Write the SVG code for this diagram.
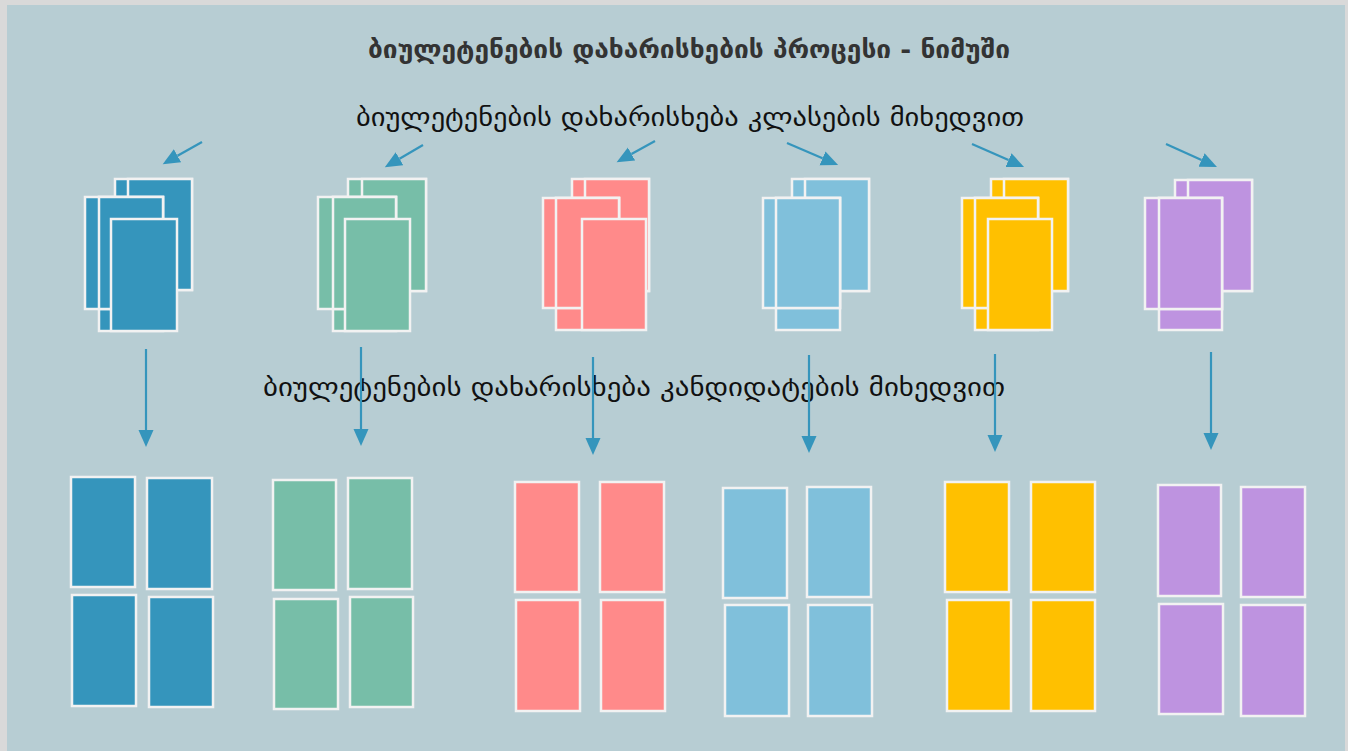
<svg xmlns="http://www.w3.org/2000/svg" width="1348" height="751" viewBox="0 0 1348 751">
<defs>
<style>
.card{stroke:#f2f2f2;stroke-width:2.5}
.c1{fill:#3595bc}.c2{fill:#77bea8}.c3{fill:#ff8a8a}.c4{fill:#80c0db}.c5{fill:#ffc000}.c6{fill:#be93e0}
.conn{stroke:#3595bc;stroke-width:2.2;fill:none}
.t{font-family:"DejaVu Sans","Noto Sans",sans-serif;text-anchor:middle}
</style>
<marker id="ah" markerUnits="userSpaceOnUse" markerWidth="18" markerHeight="16" refX="0" refY="7.5" orient="auto" viewBox="0 0 18 15">
<path d="M0,0 L17,7.5 L0,15 Z" fill="#3595bc"/>
</marker>
</defs>
<rect x="0" y="0" width="1348" height="751" fill="#d9d9d9"/>
<rect x="7" y="5" width="1338" height="746" fill="#b7cdd3"/>

<g id="texts">
<text class="t" x="689" y="58" font-size="25" font-weight="bold" fill="#333333" textLength="642" lengthAdjust="spacingAndGlyphs">ბიულეტენების დახარისხების პროცესი - ნიმუში</text>
<text class="t" x="690" y="126" font-size="25" fill="#111111" textLength="668" lengthAdjust="spacingAndGlyphs">ბიულეტენების დახარისხება კლასების მიხედვით</text>
<text class="t" x="634" y="396" font-size="25" fill="#111111" textLength="742" lengthAdjust="spacingAndGlyphs">ბიულეტენების დახარისხება კანდიდატების მიხედვით</text>
</g>

<g id="stack-1">
<rect class="card c1" x="115" y="179" width="77" height="111"/>
<rect class="card c1" x="128" y="179" width="64" height="111"/>
<rect class="card c1" x="99" y="197" width="64" height="134"/>
<rect class="card c1" x="85" y="197" width="78" height="112"/>
<rect class="card c1" x="99" y="197" width="64" height="112"/>
<rect class="card c1" x="111" y="219" width="66" height="112"/>
</g>
<g id="stack-2">
<rect class="card c2" x="348" y="179" width="78" height="112"/>
<rect class="card c2" x="362" y="179" width="64" height="112"/>
<rect class="card c2" x="333" y="197" width="63" height="134"/>
<rect class="card c2" x="318" y="197" width="78" height="112"/>
<rect class="card c2" x="333" y="197" width="63" height="112"/>
<rect class="card c2" x="345" y="219" width="65" height="112"/>
</g>
<g id="stack-3">
<rect class="card c3" x="572" y="179" width="77" height="112"/>
<rect class="card c3" x="585" y="179" width="64" height="112"/>
<rect class="card c3" x="556" y="198" width="63" height="132"/>
<rect class="card c3" x="543" y="198" width="76" height="110"/>
<rect class="card c3" x="556" y="198" width="63" height="110"/>
<rect class="card c3" x="582" y="219" width="64" height="111"/>
</g>
<g id="stack-4">
<rect class="card c4" x="792" y="179" width="77" height="112"/>
<rect class="card c4" x="805" y="179" width="64" height="112"/>
<rect class="card c4" x="776" y="198" width="64" height="132"/>
<rect class="card c4" x="763" y="198" width="77" height="110"/>
<rect class="card c4" x="776" y="198" width="64" height="110"/>
</g>
<g id="stack-5">
<rect class="card c5" x="991" y="179" width="77" height="112"/>
<rect class="card c5" x="1004" y="179" width="64" height="112"/>
<rect class="card c5" x="975" y="198" width="63" height="132"/>
<rect class="card c5" x="962" y="198" width="76" height="110"/>
<rect class="card c5" x="975" y="198" width="63" height="110"/>
<rect class="card c5" x="988" y="219" width="64" height="111"/>
</g>
<g id="stack-6">
<rect class="card c6" x="1175" y="180" width="77" height="111"/>
<rect class="card c6" x="1188" y="180" width="64" height="111"/>
<rect class="card c6" x="1159" y="198" width="63" height="132"/>
<rect class="card c6" x="1145" y="198" width="77" height="111"/>
<rect class="card c6" x="1159" y="198" width="63" height="111"/>
</g>

<g id="sorted-1">
<rect class="card c1" x="71" y="477" width="64" height="110"/>
<rect class="card c1" x="147" y="478" width="65" height="111"/>
<rect class="card c1" x="72" y="595" width="64" height="111"/>
<rect class="card c1" x="149" y="597" width="64" height="110"/>
</g>
<g id="sorted-2">
<rect class="card c2" x="273" y="480" width="63" height="110"/>
<rect class="card c2" x="348" y="478" width="64" height="111"/>
<rect class="card c2" x="274" y="599" width="64" height="110"/>
<rect class="card c2" x="350" y="597" width="63" height="110"/>
</g>
<g id="sorted-3">
<rect class="card c3" x="515" y="482" width="64" height="110"/>
<rect class="card c3" x="600" y="482" width="64" height="110"/>
<rect class="card c3" x="516" y="600" width="64" height="111"/>
<rect class="card c3" x="601" y="600" width="64" height="111"/>
</g>
<g id="sorted-4">
<rect class="card c4" x="723" y="488" width="64" height="110"/>
<rect class="card c4" x="807" y="487" width="64" height="110"/>
<rect class="card c4" x="725" y="605" width="64" height="111"/>
<rect class="card c4" x="808" y="605" width="64" height="111"/>
</g>
<g id="sorted-5">
<rect class="card c5" x="945" y="482" width="64" height="110"/>
<rect class="card c5" x="1031" y="482" width="64" height="110"/>
<rect class="card c5" x="947" y="600" width="64" height="111"/>
<rect class="card c5" x="1031" y="600" width="64" height="111"/>
</g>
<g id="sorted-6">
<rect class="card c6" x="1158" y="485" width="63" height="111"/>
<rect class="card c6" x="1241" y="487" width="64" height="110"/>
<rect class="card c6" x="1159" y="604" width="64" height="110"/>
<rect class="card c6" x="1241" y="605" width="64" height="111"/>
</g>

<g id="connectors">
<line class="conn" x1="202" y1="142" x2="177.5" y2="155.8" marker-end="url(#ah)"/>
<line class="conn" x1="423" y1="145" x2="399.5" y2="158.7" marker-end="url(#ah)"/>
<line class="conn" x1="655" y1="141" x2="631.5" y2="154" marker-end="url(#ah)"/>
<line class="conn" x1="787" y1="143" x2="822.5" y2="158.3" marker-end="url(#ah)"/>
<line class="conn" x1="972" y1="144" x2="1008.5" y2="160.1" marker-end="url(#ah)"/>
<line class="conn" x1="1166" y1="144" x2="1201.5" y2="160" marker-end="url(#ah)"/>
<line class="conn" x1="146" y1="349" x2="146" y2="430" marker-end="url(#ah)"/>
<line class="conn" x1="361" y1="347" x2="361" y2="429" marker-end="url(#ah)"/>
<line class="conn" x1="593" y1="357" x2="593" y2="438" marker-end="url(#ah)"/>
<line class="conn" x1="809" y1="355" x2="809" y2="436" marker-end="url(#ah)"/>
<line class="conn" x1="995" y1="354" x2="995" y2="435" marker-end="url(#ah)"/>
<line class="conn" x1="1211" y1="352" x2="1211" y2="433" marker-end="url(#ah)"/>
</g>
</svg>
